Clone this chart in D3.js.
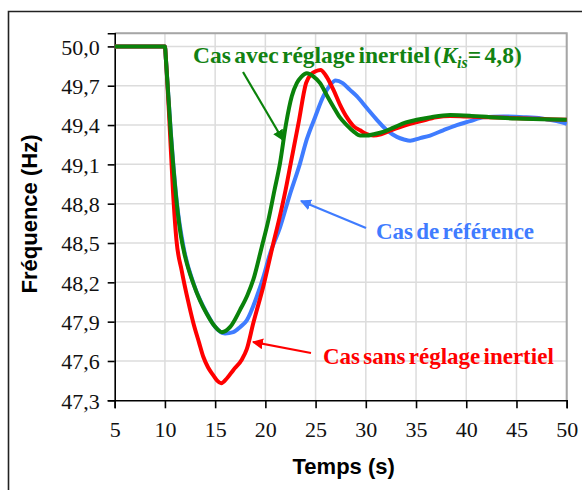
<!DOCTYPE html>
<html><head><meta charset="utf-8">
<script src="https://cdn.jsdelivr.net/npm/d3@7"></script>
<style>body{margin:0;background:#fff}svg{display:block}</style>
</head><body>
<svg id="c" width="582" height="490"></svg>
<script>
// ---- data ----
const xTicks = [5,10,15,20,25,30,35,40,45,50];
const yTicks = [47.3,47.6,47.9,48.2,48.5,48.8,49.1,49.4,49.7,50.0];
const xLabel = "Temps (s)";
const yLabel = "Fréquence (Hz)";

const casReference = [[5,50],[10,50],[10.1,49.9],[10.6,49.33],[11.2,48.8],[11.85,48.47],[12.85,48.19],[14.2,47.96],[15.0,47.86],[15.99,47.81],[16.8,47.82],[17.5,47.86],[18.15,47.91],[19.14,48.09],[19.8,48.24],[20.47,48.42],[21.46,48.62],[22.4,48.86],[23.46,49.11],[24.12,49.29],[24.95,49.46],[25.78,49.62],[26.4,49.7],[27.0,49.74],[27.7,49.72],[28.4,49.67],[29.1,49.62],[30.1,49.53],[31.1,49.44],[32.1,49.36],[33.09,49.31],[33.8,49.29],[34.41,49.28],[35.4,49.3],[36.4,49.32],[37.7,49.36],[39.06,49.40],[40.4,49.43],[41.71,49.46],[43.7,49.465],[45.7,49.46],[47.5,49.45],[49,49.43],[50,49.41]];

const casSansReglage = [[5,50],[10,50],[10.1,49.9],[10.4,49.5],[10.8,48.9],[11.15,48.52],[11.67,48.29],[12.3,48.06],[12.83,47.89],[13.4,47.74],[13.83,47.63],[14.3,47.55],[14.82,47.49],[15.2,47.45],[15.6,47.43],[16.2,47.47],[16.8,47.53],[17.65,47.61],[18.15,47.69],[18.8,47.89],[19.8,48.17],[20.8,48.50],[21.37,48.68],[22.0,48.9],[22.53,49.11],[23.29,49.41],[24.05,49.72],[24.6,49.79],[25.0,49.81],[25.5,49.82],[26.0,49.78],[26.77,49.67],[27.4,49.56],[28.1,49.46],[28.8,49.39],[29.43,49.36],[30.1,49.33],[30.76,49.32],[31.5,49.33],[32.5,49.36],[34,49.40],[35.5,49.43],[37,49.46],[38.4,49.47],[40,49.465],[42,49.46],[44,49.455],[46,49.45],[48,49.445],[50,49.44]];

const casAvecReglage = [[5,50],[10,50],[10.1,49.9],[10.58,49.34],[11.18,48.8],[11.6,48.55],[12.0,48.4],[12.83,48.19],[13.5,48.06],[14.16,47.96],[14.9,47.87],[15.66,47.82],[16.5,47.86],[17.48,47.99],[18.2,48.1],[18.8,48.22],[19.64,48.47],[20.3,48.675],[20.9,48.9],[21.46,49.11],[22.06,49.41],[22.63,49.62],[23.13,49.72],[23.6,49.77],[24.12,49.795],[24.8,49.77],[25.45,49.72],[26.1,49.63],[26.77,49.54],[27.4,49.46],[28.1,49.40],[28.8,49.35],[29.43,49.32],[30.1,49.32],[30.76,49.33],[31.8,49.35],[32.75,49.38],[34,49.42],[35.08,49.44],[36.5,49.46],[38.4,49.476],[40.5,49.47],[42.4,49.46],[45,49.45],[47.5,49.445],[50,49.44]];

const seriesNames = ["Cas de référence","Cas sans réglage inertiel","Cas avec réglage inertiel"];
const seriesColors = ["#3f7cff","#ff0000","#0a820a"];

// ---- layout ----
const svg = d3.select("#c");
const L = 114.7, R = 566.7, T = 33.3, B = 400.3;
const x = d3.scaleLinear().domain([5,50]).range([L,R]);
const y = d3.scaleLinear().domain([47.3,50.1]).range([B,T]);

// outer frame
svg.append("path").attr("d","M8.5,490 L8.5,11.5 L582,11.5").attr("fill","none").attr("stroke","#222").attr("stroke-width",1.6);

// grid
const g = svg.append("g");
g.selectAll(".gx").data(xTicks.slice(1)).enter().append("line")
  .attr("x1",d=>x(d)).attr("x2",d=>x(d)).attr("y1",T).attr("y2",B)
  .attr("stroke","#dcdcdc").attr("stroke-width",1.5);
g.selectAll(".gy").data(yTicks.slice(1).concat([50.1])).enter().append("line")
  .attr("x1",L).attr("x2",R).attr("y1",d=>y(d)).attr("y2",d=>y(d))
  .attr("stroke","#dcdcdc").attr("stroke-width",1.5);
// plot border (grey top/right)
svg.append("path").attr("d",`M${L},${T} L${R},${T} L${R},${B}`).attr("fill","none").attr("stroke","#a6a6a6").attr("stroke-width",2);

// axes
const xAxis = d3.axisBottom(x).tickValues(xTicks).tickSize(8).tickPadding(8).tickFormat(d=>d);
const yAxis = d3.axisLeft(y).tickValues(yTicks).tickSize(7).tickPadding(8).tickFormat(d=>d3.format(".1f")(d).replace(".",","));
const fmt = sel => {
  sel.select(".domain").attr("stroke","#000").attr("stroke-width",1.6);
  sel.selectAll(".tick line").attr("stroke","#000").attr("stroke-width",1.6);
  sel.selectAll(".tick text").attr("font-family","'Liberation Serif','Times New Roman',serif").attr("font-size",22).attr("fill","#111");
};
svg.append("g").attr("transform",`translate(0,${B})`).call(xAxis).call(fmt).call(s=>s.selectAll(".tick text").attr("dy","0.95em"));
svg.append("g").attr("transform",`translate(${L},0)`).call(yAxis).call(fmt).call(s=>s.selectAll(".tick text").attr("dy","0.35em"));

// axis labels
svg.append("text").attr("x",(L+R)/2+3).attr("y",474).attr("text-anchor","middle")
  .attr("font-family","'Liberation Sans',Arial,sans-serif").attr("font-weight","bold").attr("font-size",22).text(xLabel);
svg.append("text").attr("transform","translate(37,214) rotate(-90)").attr("text-anchor","middle")
  .attr("font-family","'Liberation Sans',Arial,sans-serif").attr("font-weight","bold").attr("font-size",22).text(yLabel);

// lines
const line = d3.line().x(d=>x(d[0])).y(d=>y(d[1])).curve(d3.curveMonotoneX);
[casReference,casSansReglage,casAvecReglage].forEach((s,i)=>{
  svg.append("path").datum(s).attr("d",line).attr("fill","none")
    .attr("stroke",seriesColors[i]).attr("stroke-width",4).attr("stroke-linejoin","round");
});

// annotations
const defs = svg.append("defs");
seriesColors.forEach((c,i)=>{
  defs.append("marker").attr("id","ar"+i).attr("viewBox","0 0 10 10").attr("refX",9).attr("refY",5)
    .attr("markerWidth",5).attr("markerHeight",5).attr("orient","auto").attr("markerUnits","strokeWidth")
    .append("path").attr("d","M0,0 L10,5 L0,10 z").attr("fill",c);
});
const serif = "'Liberation Serif','Times New Roman',serif";
function ann(i, ax1, ay1, ax2, ay2){
  svg.append("line").attr("x1",ax1).attr("y1",ay1).attr("x2",ax2).attr("y2",ay2)
    .attr("stroke",seriesColors[i]).attr("stroke-width",2.2).attr("marker-end",`url(#ar${i})`);
}
ann(2,243,72,283,140);
ann(0,366,228,301,201);
ann(1,311,353,253,342);

const tGreen = svg.append("text").attr("x",193).attr("y",63).attr("font-family",serif).attr("font-weight","bold")
  .attr("font-size",23.5).attr("fill","#128212").attr("word-spacing",-2.5);
tGreen.append("tspan").text("Cas avec réglage inertiel (");
tGreen.append("tspan").attr("font-style","italic").text("K");
tGreen.append("tspan").attr("font-style","italic").attr("font-size",16).attr("dy",5).text("is");
tGreen.append("tspan").attr("dy",-5).text("= 4,8)");

svg.append("text").attr("x",376).attr("y",239).attr("font-family",serif).attr("font-weight","bold")
  .attr("font-size",23).attr("fill",seriesColors[0]).attr("word-spacing",-2.5).text(seriesNames[0]);
svg.append("text").attr("x",323).attr("y",364).attr("font-family",serif).attr("font-weight","bold")
  .attr("font-size",23).attr("fill",seriesColors[1]).attr("word-spacing",-2.5).text(seriesNames[1]);
</script>
</body></html>
